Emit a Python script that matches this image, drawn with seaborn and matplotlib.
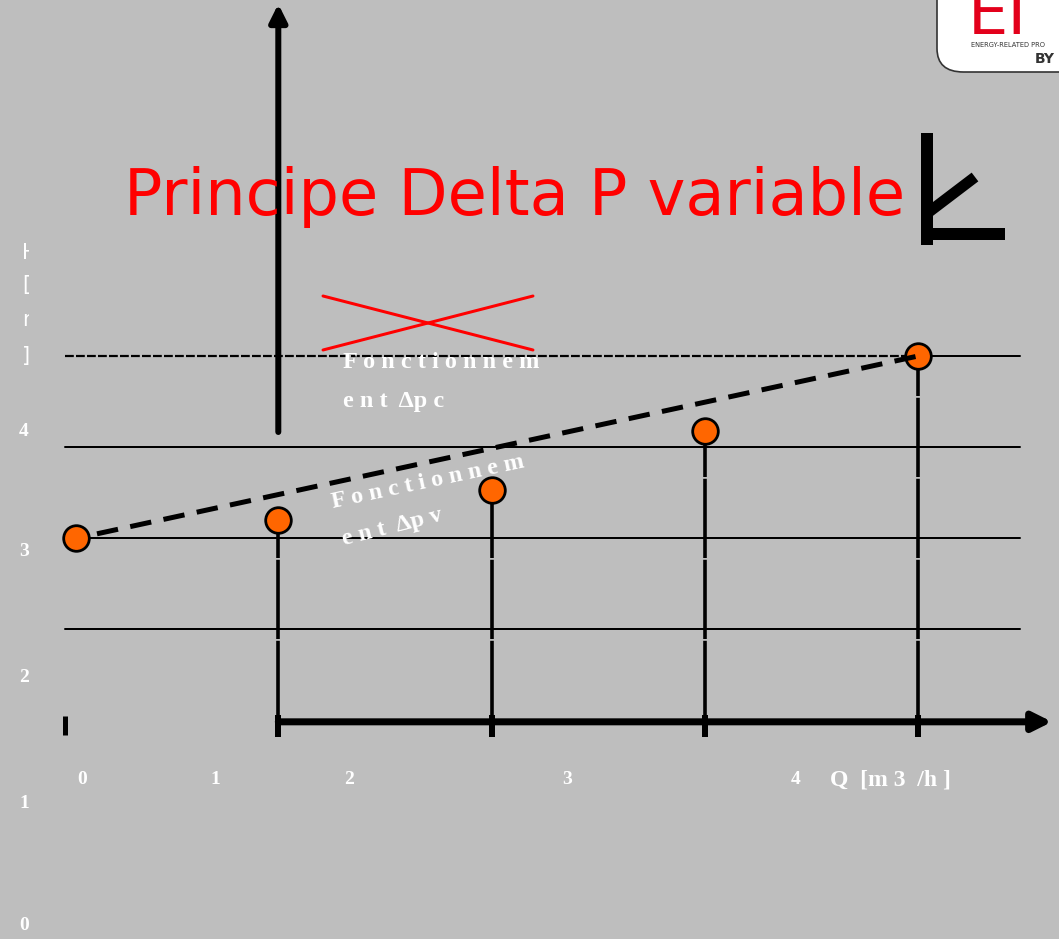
import numpy as np
import pandas as pd
import matplotlib
matplotlib.use("Agg")
import matplotlib.pyplot as plt
from matplotlib.patches import FancyArrowPatch, FancyBboxPatch, Rectangle
import seaborn as sns

# ---- data -------------------------------------------------------------
flow_q = [0.05, 1, 2, 3, 4]            # Q [m3/h] operating points
head_h = [2.0, 2.2, 2.53, 3.18, 4.0]   # H [m] at each operating point
grid_levels = [1, 2, 3]                # solid reference lines
const_level = 4                        # constant-pressure level
q_ticks = [1, 2, 3, 4]
y_tick_labels = ["4", "3", "2", "1", "0"]
x_tick_labels = ["0", "1", "2", "3", "4"]
x_axis_title = "Q  [m 3  /h ]"
title = "Principe Delta P variable"
label_pc = ["F o n c t i o n n e m", "e n t  Δp c"]
label_pv = ["F o n c t i o n n e m", "e n t  Δp v"]

# ---- canvas -----------------------------------------------------------
W, H = 1059, 939
BG = "#bebebe"
sns.set_theme(style="white")
plt.rcParams["font.family"] = ["DejaVu Sans"]

fig = plt.figure(figsize=(W / 100, H / 100), dpi=100, facecolor=BG)
ax = fig.add_axes([0, 0, 1, 1], facecolor=BG)

# data scale: one Q unit = 213.3 px starting at px 65; one H unit = 91 px, H=0 at px 720
X0, XU = 65.0, 213.3
Y0, YU = 720.0, 91.0
ax.set_xlim((0 - X0) / XU, (W - X0) / XU)
ax.set_ylim((Y0 - H) / YU, (Y0 - 0) / YU)
ax.axis("off")


def fx(px):
    return px / W


def fy(py):
    return 1 - py / H


LW = 0.72  # points per pixel

# horizontal reference lines
x_right = (1020 - X0) / XU
for lvl in grid_levels:
    ax.plot([0, x_right], [lvl, lvl], color="black", lw=2 * LW, zorder=2)
ax.plot([0, flow_q[-1]], [const_level, const_level], color="black", lw=2.2 * LW,
        linestyle=(0, (4, 1)), zorder=2)
ax.plot([flow_q[-1], x_right], [const_level, const_level], color="black", lw=2 * LW, zorder=2)

# vertical drop lines from operating points
for q, h in zip(flow_q[1:], head_h[1:]):
    ax.plot([q, q], [0, h], color="black", lw=3.6 * LW, linestyle=(0, (22, 0.5)), zorder=2)

# horizontal Q axis with arrow
x_end = (1052 - X0) / XU
ax.add_patch(FancyArrowPatch((1, -0.02), (x_end, -0.02), arrowstyle="-|>",
                             mutation_scale=28, lw=7 * LW, color="black", zorder=4,
                             shrinkA=0, shrinkB=0))
for q in q_ticks:
    ax.plot([q, q], [0.06, -0.19], color="black", lw=6 * LW, solid_capstyle="butt", zorder=4)
ax.plot([0, 0], [0.045, -0.17], color="black", lw=5 * LW, solid_capstyle="butt", zorder=4)

# vertical H axis with arrow
ax.add_patch(FancyArrowPatch((1, (Y0 - 432) / YU), (1, (Y0 - 4) / YU), arrowstyle="-|>",
                             mutation_scale=26, lw=6 * LW, color="black", zorder=4,
                             shrinkA=0, shrinkB=0))

# operating points and variable-pressure curve
df = pd.DataFrame({"Q": flow_q, "H": head_h})
sns.scatterplot(data=df, x="Q", y="H", ax=ax, s=340, color="#ff6600",
                edgecolor="black", linewidth=2, zorder=5, legend=False)
ax.plot([flow_q[0] + 0.1, flow_q[-1]], [head_h[0] + 0.046, head_h[-1]], color="black",
        lw=5 * LW, linestyle=(0, (4.3, 2.5)), zorder=6)

# crossed-out marker above the constant-pressure line
ax.plot([(323 - X0) / XU, (533 - X0) / XU], [(Y0 - 296) / YU, (Y0 - 350) / YU],
        color="red", lw=3 * LW, zorder=3)
ax.plot([(323 - X0) / XU, (533 - X0) / XU], [(Y0 - 350) / YU, (Y0 - 296) / YU],
        color="red", lw=3 * LW, zorder=3)

# annotations
serif = ["Liberation Serif", "DejaVu Serif"]
fig.text(fx(343), fy(362), label_pc[0], color="white", fontsize=17.5, family=serif,
         fontweight="bold", va="center", ha="left", zorder=7)
fig.text(fx(343), fy(401), label_pc[1], color="white", fontsize=17.5, family=serif,
         fontweight="bold", va="center", ha="left", zorder=7)
fig.text(fx(428), fy(482), label_pv[0], color="white", fontsize=17.5, family=serif,
         fontweight="bold", va="center", ha="center", rotation=12, rotation_mode="anchor", zorder=7)
fig.text(fx(392), fy(527), label_pv[1], color="white", fontsize=17.5, family=serif,
         fontweight="bold", va="center", ha="center", rotation=14, rotation_mode="anchor", zorder=7)

# title
fig.text(fx(515), fy(197), title, color="#ff0000", fontsize=46, ha="center", va="center",
         family=["DejaVu Sans"], zorder=3)

# tick labels
y_label_px = [432, 552, 678, 803, 925]
for lab, py in zip(y_tick_labels, y_label_px):
    fig.text(fx(24), fy(py), lab, color="white", fontsize=14, family=serif,
             fontweight="bold", ha="center", va="center")
x_label_px = [82, 215, 349, 567, 796]
for lab, px in zip(x_tick_labels, x_label_px):
    fig.text(fx(px), fy(780), lab, color="white", fontsize=14, family=serif,
             fontweight="bold", ha="center", va="center")
fig.text(fx(830), fy(780), x_axis_title, color="white", fontsize=17, family=serif,
         fontweight="bold", ha="left", va="center")

# vertical H label, cut on its right side
clip = Rectangle((0, 0), fx(29), 1, transform=fig.transFigure)
for ch, py in zip(["H", "[", "m", "]"], [253, 285, 320, 356]):
    t = fig.text(fx(22), fy(py), ch, color="white", fontsize=15, family=["DejaVu Sans"],
                 ha="left", va="center")
    t.set_clip_path(clip)

# right-hand pictogram
for seg, lw in [(((927, 133), (927, 245)), 12), (((927, 234), (1005, 234)), 12),
                (((925, 215), (975, 177)), 11)]:
    (xa, ya), (xb, yb) = seg
    fig.add_artist(plt.Line2D([fx(xa), fx(xb)], [fy(ya), fy(yb)], color="black",
                              lw=lw * LW, solid_capstyle="butt", transform=fig.transFigure))

# logo badge
badge = FancyBboxPatch((fx(937), fy(72)), fx(160), fy(-30) - fy(72) + 0.1,
                       boxstyle="round,pad=0,rounding_size=0.025", transform=fig.transFigure,
                       facecolor="white", edgecolor="#333333", lw=1.2, zorder=8)
fig.add_artist(badge)
logo = fig.text(fx(968), fy(34), "EI", color="#e3001b", fontsize=46, family=["DejaVu Sans"],
                ha="left", va="baseline", zorder=9)
fig.text(fx(971), fy(45), "ENERGY-RELATED PRO", color="#333333", fontsize=4.8,
         family=["DejaVu Sans"], ha="left", va="center", zorder=9)
fig.text(fx(1035), fy(59), "BY", color="#333333", fontsize=10, fontweight="bold",
         family=["DejaVu Sans"], ha="left", va="center", zorder=9)

fig.savefig("out.png", dpi=100, facecolor=BG)
